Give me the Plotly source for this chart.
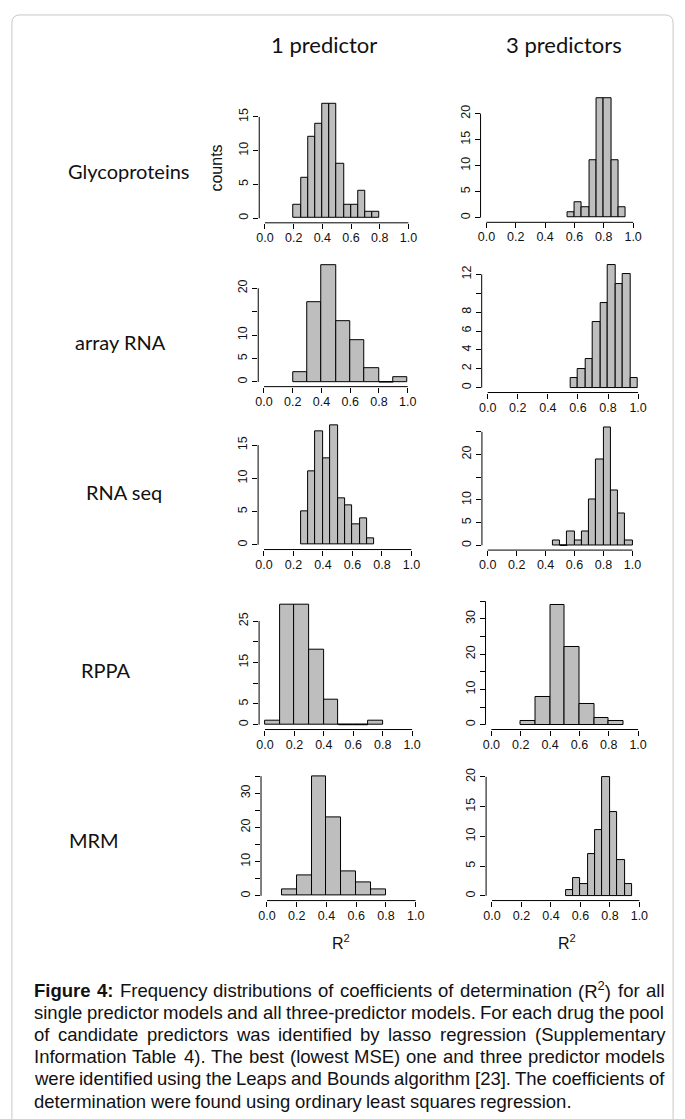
import numpy as np
import plotly.graph_objects as go

W, H = 685, 1119

# ---------------- data ----------------
r2_ticks = [0.0, 0.2, 0.4, 0.6, 0.8, 1.0]
r2_tick_labels = ["0.0", "0.2", "0.4", "0.6", "0.8", "1.0"]

col_titles = ["1 predictor", "3 predictors"]
row_titles = ["Glycoproteins", "array RNA", "RNA seq", "RPPA", "MRM"]

glyco_1_start, glyco_1_width = 0.20, 0.05
glyco_1_counts = [2, 6, 12, 14, 17, 17, 8, 2, 2, 4, 1, 1]
glyco_1_yticks = [0, 5, 10, 15]
glyco_1_ylabels = ["0", "5", "10", "15"]

glyco_3_start, glyco_3_width = 0.55, 0.05
glyco_3_counts = [1, 3, 2, 11, 23, 23, 11, 2]
glyco_3_yticks = [0, 5, 10, 15, 20]
glyco_3_ylabels = ["0", "5", "10", "15", "20"]

array_1_start, array_1_width = 0.20, 0.10
array_1_counts = [2, 17, 25, 13, 9, 3, 0, 1]
array_1_yticks = [0, 5, 10, 15, 20]
array_1_ylabels = ["0", "5", "10", "", "20"]

array_3_start, array_3_width = 0.55, 0.05
array_3_counts = [1, 2, 3, 7, 9, 13, 11, 12, 1]
array_3_yticks = [0, 2, 4, 6, 8, 10, 12]
array_3_ylabels = ["0", "2", "4", "6", "8", "", "12"]

seq_1_start, seq_1_width = 0.25, 0.05
seq_1_counts = [5, 11, 17, 13, 18, 7, 6, 3, 4, 1]
seq_1_yticks = [0, 5, 10, 15]
seq_1_ylabels = ["0", "5", "10", "15"]

seq_3_start, seq_3_width = 0.45, 0.05
seq_3_counts = [1, 0, 3, 1, 3, 10, 19, 26, 12, 7, 1]
seq_3_yticks = [0, 5, 10, 15, 20, 25]
seq_3_ylabels = ["0", "5", "10", "", "20", ""]

rppa_1_start, rppa_1_width = 0.0, 0.10
rppa_1_counts = [1, 29, 29, 18, 6, 0, 0, 1]
rppa_1_yticks = [0, 5, 10, 15, 20, 25]
rppa_1_ylabels = ["0", "5", "", "15", "", "25"]

rppa_3_start, rppa_3_width = 0.20, 0.10
rppa_3_counts = [1, 8, 34, 22, 6, 2, 1]
rppa_3_yticks = [0, 5, 10, 15, 20, 25, 30, 35]
rppa_3_ylabels = ["0", "", "10", "", "20", "", "30", ""]

mrm_1_start, mrm_1_width = 0.10, 0.10
mrm_1_counts = [2, 6, 35, 23, 7, 4, 2]
mrm_1_yticks = [0, 5, 10, 15, 20, 25, 30, 35]
mrm_1_ylabels = ["0", "", "10", "", "20", "", "30", ""]

mrm_3_start, mrm_3_width = 0.50, 0.05
mrm_3_counts = [1, 3, 2, 7, 11, 20, 14, 6, 2]
mrm_3_yticks = [0, 5, 10, 15, 20]
mrm_3_ylabels = ["0", "5", "10", "15", "20"]

caption_lines = [
    "<b>Figure</b> <b>4:</b> Frequency distributions of coefficients of determination (R<sup>2</sup>) for all",
    "single predictor models and all three-predictor models. For each drug the pool",
    "of candidate predictors was identified by lasso regression (Supplementary",
    "Information Table 4). The best (lowest MSE) one and three predictor models",
    "were identified using the Leaps and Bounds algorithm [23]. The coefficients of",
    "determination were found using ordinary least squares regression.",
]

panels = [
    (glyco_1_start, glyco_1_width, glyco_1_counts, glyco_1_yticks, glyco_1_ylabels),
    (glyco_3_start, glyco_3_width, glyco_3_counts, glyco_3_yticks, glyco_3_ylabels),
    (array_1_start, array_1_width, array_1_counts, array_1_yticks, array_1_ylabels),
    (array_3_start, array_3_width, array_3_counts, array_3_yticks, array_3_ylabels),
    (seq_1_start, seq_1_width, seq_1_counts, seq_1_yticks, seq_1_ylabels),
    (seq_3_start, seq_3_width, seq_3_counts, seq_3_yticks, seq_3_ylabels),
    (rppa_1_start, rppa_1_width, rppa_1_counts, rppa_1_yticks, rppa_1_ylabels),
    (rppa_3_start, rppa_3_width, rppa_3_counts, rppa_3_yticks, rppa_3_ylabels),
    (mrm_1_start, mrm_1_width, mrm_1_counts, mrm_1_yticks, mrm_1_ylabels),
    (mrm_3_start, mrm_3_width, mrm_3_counts, mrm_3_yticks, mrm_3_ylabels),
]

# ---------------- layout geometry (pixels) ----------------
# (pixel x of R2=0, pixel width of one R2 unit, pixel y of count 0, pixels per count)
geom = [
    (264.3, 144.7, 215.0, 6.78),
    (487.7, 148.0, 214.3, 5.215),
    (263.3, 145.0, 379.3, 4.70),
    (489.0, 151.7, 385.0, 9.47),
    (263.3, 148.7, 542.7, 6.67),
    (489.0, 146.0, 543.3, 4.56),
    (264.3, 148.4, 723.3, 4.16),
    (492.7, 148.0, 723.3, 3.54),
    (266.3, 150.0, 895.0, 3.43),
    (493.3, 148.7, 895.0, 5.97),
]


def px(x):
    return x / W


def py(y):
    return 1 - y / H


TICK_FONT = dict(family="Liberation Sans, Arial, sans-serif", size=12.5, color="#111")
LABEL_FONT = "Lato, Carlito, Open Sans, sans-serif"

fig = go.Figure()
layout = {}
shapes = []

for i, (panel, g) in enumerate(zip(panels, geom)):
    start, bw, counts, yt, yl = panel
    x0px, xunit, y0px, yunit = g
    n = i + 1
    sfx = "" if n == 1 else str(n)
    counts = np.array(counts, dtype=float)
    left_edges = start + bw * np.arange(len(counts))
    centers = left_edges + bw / 2
    ymax = counts.max()
    ylo, yhi = -0.04 * ymax, 1.04 * ymax

    fig.add_trace(go.Bar(
        x=centers, y=counts, width=bw,
        marker=dict(color="#bebebe", line=dict(color="#000", width=1)),
        xaxis="x" + sfx, yaxis="y" + sfx, showlegend=False, hoverinfo="skip",
    ))
    # empty bins drawn as a flat outline like R
    for le, c in zip(left_edges, counts):
        if c == 0:
            fig.add_trace(go.Scatter(
                x=[le, le + bw], y=[0, 0], mode="lines",
                line=dict(color="#000", width=1),
                xaxis="x" + sfx, yaxis="y" + sfx, showlegend=False, hoverinfo="skip",
            ))

    left_px = x0px - 0.04 * xunit
    right_px = x0px + 1.04 * xunit
    top_px = y0px - yhi * yunit
    bot_px = y0px - ylo * yunit

    lab_vals = [v for v, s in zip(yt, yl) if s != ""]
    lab_text = [s for s in yl if s != ""]
    minor_vals = [v for v, s in zip(yt, yl) if s == ""]

    layout["xaxis" + sfx] = dict(
        domain=[px(left_px), px(right_px)], range=[-0.04, 1.04],
        anchor="y" + sfx, tickmode="array", tickvals=r2_ticks, ticktext=r2_tick_labels,
        ticks="outside", ticklen=5, tickwidth=1, tickcolor="#000",
        showgrid=False, zeroline=False, showline=False, tickfont=TICK_FONT,
        ticklabelstandoff=-2, fixedrange=True,
    )
    ydict = dict(
        domain=[py(bot_px), py(top_px)], range=[ylo, yhi],
        anchor="x" + sfx, tickmode="array", tickvals=lab_vals, ticktext=lab_text, tickangle=-90,
        ticks="outside", ticklen=5, tickwidth=1, tickcolor="#000",
        showgrid=False, zeroline=False, showline=False, tickfont=TICK_FONT,
        ticklabelstandoff=0, fixedrange=True,
    )
    if minor_vals:
        ydict["minor"] = dict(tickmode="array", tickvals=minor_vals, ticks="outside",
                              ticklen=5, tickwidth=1, tickcolor="#000", showgrid=False)
    layout["yaxis" + sfx] = ydict
    # R-style axis lines from first to last tick
    shapes.append(dict(type="line", xref="x" + sfx, yref="y" + sfx + " domain",
                       x0=r2_ticks[0], x1=r2_ticks[-1], y0=0, y1=0,
                       line=dict(color="#000", width=1)))
    shapes.append(dict(type="line", xref="x" + sfx + " domain", yref="y" + sfx,
                       x0=0, x1=0, y0=yt[0], y1=yt[-1],
                       line=dict(color="#000", width=1)))

# outer rounded frame
r = 8
L, R_, T = 9, 676, 11
Bt = 1140
path = (f"M {px(L)},{py(Bt)} L {px(L)},{py(T + r)} Q {px(L)},{py(T)} {px(L + r)},{py(T)} "
        f"L {px(R_ - r)},{py(T)} Q {px(R_)},{py(T)} {px(R_)},{py(T + r)} L {px(R_)},{py(Bt)}")
shapes.append(dict(type="path", xref="paper", yref="paper", path=path,
                   line=dict(color="#c8c8c8", width=1)))

annotations = []
# column titles
for t, cx in zip(col_titles, [324, 566]):
    annotations.append(dict(text=t, x=px(cx), y=py(41), xref="paper", yref="paper",
                            xanchor="center", yanchor="middle", showarrow=False,
                            font=dict(family=LABEL_FONT, size=22, color="#111")))
# row titles
for t, cx, cy in zip(row_titles, [127, 119, 122, 104, 92], [168, 339, 490, 668, 839]):
    annotations.append(dict(text=t, x=px(cx), y=py(cy), xref="paper", yref="paper",
                            xanchor="center", yanchor="middle", showarrow=False,
                            font=dict(family=LABEL_FONT, size=20, color="#111")))
# counts label
annotations.append(dict(text="counts", x=px(215), y=py(165), xref="paper", yref="paper",
                        xanchor="center", yanchor="middle", showarrow=False, textangle=-90,
                        font=dict(family="Liberation Sans, Arial, sans-serif", size=16, color="#111")))
# R2 labels
for cx in [341, 569]:
    annotations.append(dict(text="R<sup>2</sup>", x=px(cx), y=py(941), xref="paper", yref="paper",
                            xanchor="center", yanchor="middle", showarrow=False,
                            font=dict(family="Liberation Sans, Arial, sans-serif", size=16, color="#111")))

# ---------------- justified caption ----------------
AR = {' ': 278, '(': 333, ')': 333, '-': 333, '.': 278, ',': 278, ':': 278, '[': 278, ']': 278,
      'A': 667, 'B': 667, 'C': 722, 'D': 722, 'E': 667, 'F': 611, 'G': 778, 'H': 722, 'I': 278,
      'J': 500, 'K': 667, 'L': 556, 'M': 833, 'N': 722, 'O': 778, 'P': 667, 'Q': 778, 'R': 722,
      'S': 667, 'T': 611, 'U': 722, 'V': 667, 'W': 944, 'X': 667, 'Y': 667, 'Z': 611,
      'a': 556, 'b': 556, 'c': 500, 'd': 556, 'e': 556, 'f': 278, 'g': 556, 'h': 556, 'i': 222,
      'j': 222, 'k': 500, 'l': 222, 'm': 833, 'n': 556, 'o': 556, 'p': 556, 'q': 556, 'r': 333,
      's': 500, 't': 278, 'u': 556, 'v': 500, 'w': 722, 'x': 500, 'y': 500, 'z': 500}
for d in "0123456789":
    AR[d] = 556
AB = dict(AR)
AB.update({'F': 611, 'i': 278, 'g': 611, 'u': 611, 'r': 389, 'e': 556, ':': 333, '4': 556})


def word_em(wd):
    bold = wd.startswith("<b>")
    s = wd.replace("<b>", "").replace("</b>", "")
    total = 0.0
    while s:
        if s.startswith("<sup>"):
            e = s.index("</sup>")
            total += 0.7 * sum(AR.get(c, 556) for c in s[5:e])
            s = s[e + 6:]
            continue
        total += (AB if bold else AR).get(s[0], 556)
        s = s[1:]
    return total / 1000.0


cap_size = 18.5
cap_left, cap_right = 31, 667
cap_y0, cap_dy = 990, 22.2
cap_font = dict(family="Liberation Sans, Arial, sans-serif", size=cap_size, color="#111")
for li, line in enumerate(caption_lines):
    words = line.split(" ")
    widths = [word_em(wd) * cap_size for wd in words]
    last = li == len(caption_lines) - 1
    if last:
        gap = 0.278 * cap_size
    else:
        gap = (cap_right - cap_left - sum(widths)) / (len(words) - 1)
    xcur = cap_left
    for wd, wdt in zip(words, widths):
        annotations.append(dict(text=wd, x=px(xcur), y=py(cap_y0 + li * cap_dy),
                                xref="paper", yref="paper", xanchor="left", yanchor="middle",
                                showarrow=False, font=cap_font, borderpad=0, borderwidth=0))
        xcur += wdt + gap

fig.update_layout(
    width=W, height=H, autosize=False,
    margin=dict(l=0, r=0, t=0, b=0),
    paper_bgcolor="white", plot_bgcolor="white",
    shapes=shapes, annotations=annotations, bargap=0,
    **layout,
)

fig.write_html("out.html", config={"displayModeBar": False},
               post_script="document.body.style.margin='0px';document.body.style.overflow='hidden';")
